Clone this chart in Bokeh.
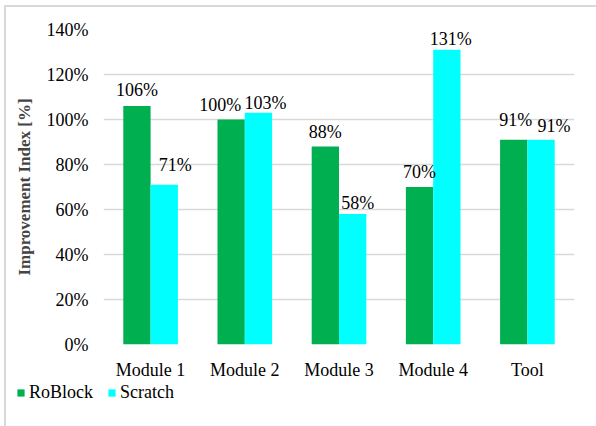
from bokeh.plotting import figure
from bokeh.layouts import column
from bokeh.models import ColumnDataSource, FactorRange, FixedTicker, CustomJSTickFormatter, Legend, LegendItem
from bokeh.transform import dodge
from bokeh.core.properties import value
from bokeh.embed import file_html
from bokeh.resources import INLINE

categories = ["Module 1", "Module 2", "Module 3", "Module 4", "Tool"]
roblock = [106, 100, 88, 70, 91]
scratch = [71, 103, 58, 131, 91]
y_ticks = [0, 20, 40, 60, 80, 100, 120, 140]

# label nudges (screen px) to mimic the reference label placement
rob_dx = [0, -11, 0, 0, 2]
rob_gap = [10, 9, 9, 9, 14]
scr_dx = [11, 7, 5, 4, 13]
scr_gap = [14, 4, 5, 5, 8]

FONT = "Liberation Serif"
GREEN = "#00B050"
CYAN = "#00FFFF"
W = 0.29
DESC = 4

src = ColumnDataSource(data=dict(
    cat=categories, roblock=roblock, scratch=scratch,
    rob_lbl=[f"{v}%" for v in roblock], scr_lbl=[f"{v}%" for v in scratch],
    rob_dx=rob_dx, rob_dy=[-(g - DESC) for g in rob_gap],
    scr_dx=scr_dx, scr_dy=[-(g - DESC) for g in scr_gap],
))

p = figure(width=590, height=375, x_range=FactorRange(*categories, range_padding=0),
           y_range=(0, 140), output_backend="svg", toolbar_location=None,
           min_border_left=97, min_border_right=22, min_border_top=22, min_border_bottom=38)
p.outline_line_color = None

r1 = p.vbar(x=dodge("cat", -W / 2, range=p.x_range), top="roblock", width=W,
            source=src, fill_color=GREEN, line_color=None)
r2 = p.vbar(x=dodge("cat", W / 2, range=p.x_range), top="scratch", width=W,
            source=src, fill_color=CYAN, line_color=None)

p.text(x=dodge("cat", -W / 2, range=p.x_range), y="roblock", text="rob_lbl", source=src,
       x_offset="rob_dx", y_offset="rob_dy", text_align="center", text_baseline="bottom",
       text_font=value(FONT), text_font_size="18px", text_color="#000000")
p.text(x=dodge("cat", W / 2, range=p.x_range), y="scratch", text="scr_lbl", source=src,
       x_offset="scr_dx", y_offset="scr_dy", text_align="center", text_baseline="bottom",
       text_font=value(FONT), text_font_size="18px", text_color="#000000")

p.yaxis.ticker = FixedTicker(ticks=y_ticks)
p.yaxis.formatter = CustomJSTickFormatter(code="return tick + '%';")
p.yaxis.axis_label = "Improvement Index [%]"
p.yaxis.axis_label_text_font = FONT
p.yaxis.axis_label_text_font_style = "bold"
p.yaxis.axis_label_text_font_size = "17px"
p.yaxis.axis_label_standoff = 10
for ax in (p.xaxis, p.yaxis):
    ax.axis_line_color = None
    ax.major_tick_line_color = None
    ax.minor_tick_line_color = None
    ax.major_tick_out = 0
    ax.major_tick_in = 0
    ax.major_label_text_font = FONT
    ax.major_label_text_font_size = "18px"
    ax.major_label_text_color = "#000000"
p.yaxis.major_label_standoff = 15
p.xaxis.major_label_standoff = 15

p.xgrid.grid_line_color = None
p.ygrid.grid_line_color = "#d9d9d9"
p.ygrid.grid_line_width = 1.5

# legend strip below the chart (its own small figure, no axes)
leg = figure(width=590, height=44, output_backend="svg", toolbar_location=None,
             x_axis_location=None, y_axis_location=None,
             min_border_left=10, min_border_top=0, min_border_right=0, min_border_bottom=0,
             x_range=(0, 1), y_range=(0, 1))
if "frame_align" in leg.properties():
    leg.frame_align = False
leg.outline_line_color = None
leg.grid.visible = False
key_src = ColumnDataSource(data=dict(x=[0.5], top=[0.0]))
l1 = leg.vbar(x="x", top="top", width=0, source=key_src, fill_color=GREEN, line_color=None)
l2 = leg.vbar(x="x", top="top", width=0, source=key_src, fill_color=CYAN, line_color=None)
legend = Legend(items=[LegendItem(label="RoBlock", renderers=[l1]),
                       LegendItem(label="Scratch", renderers=[l2])],
                orientation="horizontal", location="top_left",
                glyph_width=9, glyph_height=9, label_standoff=4, spacing=14,
                padding=0, margin=0, border_line_color=None, background_fill_alpha=0,
                label_text_font=FONT, label_text_font_size="18px", label_text_color="#000000",
                label_height=13)
leg.add_layout(legend, "center")

layout = column(p, leg, spacing=0)
layout.margin = (5, 0, 0, 4)
layout.styles = {"border-left": "2px solid #d9d9d9", "border-top": "2px solid #d9d9d9"}

open("out.html", "w").write(file_html(layout, INLINE))
